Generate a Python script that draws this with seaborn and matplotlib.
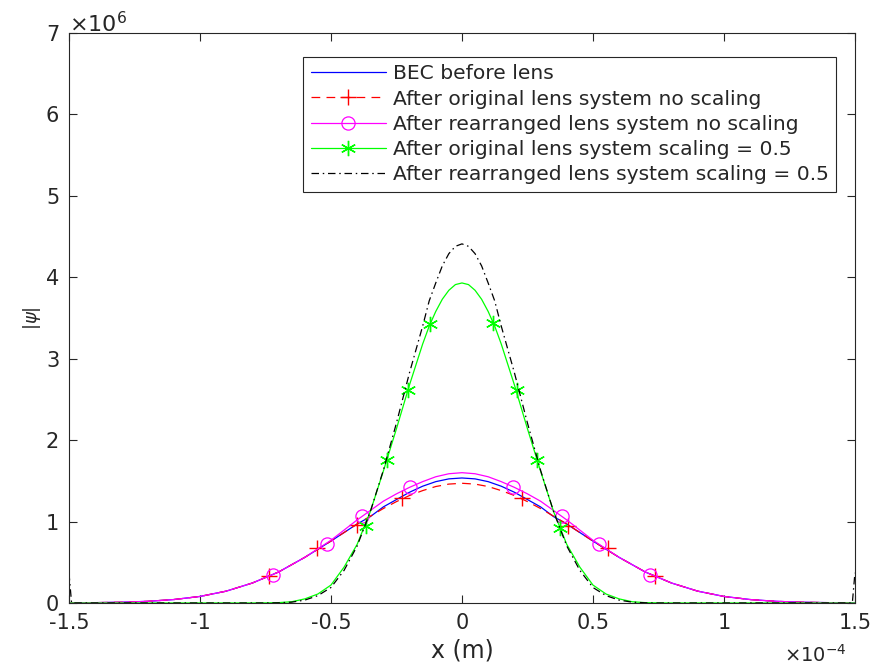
import numpy as np
import pandas as pd
import matplotlib
matplotlib.use("Agg")
import matplotlib.pyplot as plt
from matplotlib.lines import Line2D
import seaborn as sns

# ---------------- data (x in units of 1e-4 m, |psi| in units of 1e6) ----------------
x_wide = [-1.5, -1.4, -1.3, -1.2, -1.1, -1.0, -0.9, -0.8, -0.7, -0.6,
          -0.5, -0.45, -0.4, -0.35, -0.3, -0.25, -0.2, -0.15, -0.1, -0.05,
          0.0, 0.05, 0.1, 0.15, 0.2, 0.25, 0.3, 0.35, 0.4, 0.45, 0.5,
          0.6, 0.7, 0.8, 0.9, 1.0, 1.1, 1.2, 1.3, 1.4, 1.5]
bec_before = [0.002, 0.004, 0.009, 0.02, 0.042, 0.08, 0.145, 0.245, 0.38, 0.56,
              0.76, 0.865, 0.97, 1.06, 1.18, 1.27, 1.36, 1.434, 1.49, 1.524,
              1.535, 1.524, 1.49, 1.434, 1.36, 1.27, 1.18, 1.06, 0.97, 0.865, 0.76,
              0.56, 0.38, 0.245, 0.145, 0.08, 0.042, 0.02, 0.009, 0.004, 0.002]
orig_noscale = [0.002, 0.004, 0.009, 0.02, 0.042, 0.08, 0.145, 0.245, 0.38, 0.56,
                0.76, 0.865, 0.97, 1.065, 1.16, 1.245, 1.32, 1.38, 1.43, 1.46,
                1.47, 1.46, 1.43, 1.38, 1.32, 1.245, 1.16, 1.065, 0.97, 0.865, 0.76,
                0.56, 0.38, 0.245, 0.145, 0.08, 0.042, 0.02, 0.009, 0.004, 0.002]
rearr_noscale = [0.002, 0.004, 0.009, 0.02, 0.042, 0.08, 0.145, 0.245, 0.38, 0.56,
                 0.77, 0.895, 1.02, 1.135, 1.25, 1.34, 1.42, 1.49, 1.55, 1.587,
                 1.60, 1.587, 1.55, 1.49, 1.42, 1.34, 1.25, 1.135, 1.02, 0.895, 0.77,
                 0.56, 0.38, 0.245, 0.145, 0.08, 0.042, 0.02, 0.009, 0.004, 0.002]

x_narrow = [-1.5, -0.8, -0.75, -0.7, -0.65, -0.6, -0.55, -0.5, -0.45, -0.4, -0.35, -0.3, -0.25, -0.2,
            -0.15, -0.125, -0.1, -0.075, -0.05, -0.025,
            0.0, 0.025, 0.05, 0.075, 0.1, 0.125, 0.15,
            0.2, 0.25, 0.3, 0.35, 0.4, 0.45, 0.5, 0.55, 0.6, 0.65, 0.7, 0.75, 0.8, 1.5]
orig_scaled = [0.0, 0.0, 0.001, 0.004, 0.015, 0.05, 0.11, 0.22, 0.44, 0.72, 1.12, 1.62, 2.14, 2.68,
               3.18, 3.40, 3.58, 3.73, 3.84, 3.91,
               3.93, 3.91, 3.84, 3.73, 3.58, 3.40, 3.18,
               2.68, 2.14, 1.62, 1.12, 0.72, 0.44, 0.22, 0.11, 0.05, 0.015, 0.004, 0.001, 0.0, 0.0]

x_black = [-1.5, -1.49, -0.8, -0.75, -0.7, -0.65, -0.6, -0.55, -0.5, -0.45, -0.4, -0.35, -0.3, -0.25, -0.2,
           -0.15, -0.125, -0.1, -0.075, -0.05, -0.025,
           0.0, 0.025, 0.05, 0.075, 0.1, 0.125, 0.15,
           0.2, 0.25, 0.3, 0.35, 0.4, 0.45, 0.5, 0.55, 0.6, 0.65, 0.7, 0.75, 0.8, 1.49, 1.5]
rearr_scaled = [0.37, 0.0, 0.0, 0.0, 0.002, 0.01, 0.035, 0.09, 0.19, 0.40, 0.70, 1.12, 1.63, 2.21, 2.83,
                3.40, 3.71, 3.93, 4.14, 4.29, 4.38,
                4.41, 4.38, 4.29, 4.14, 3.93, 3.71, 3.40,
                2.83, 2.21, 1.63, 1.12, 0.70, 0.40, 0.19, 0.09, 0.035, 0.01, 0.002, 0.0, 0.0, 0.0, 0.37]

# marker positions as seen on the curves
red_mx = [-0.735, -0.553, -0.40, -0.229, 0.229, 0.405, 0.557, 0.737]
red_my = [0.33, 0.67, 0.96, 1.29, 1.29, 0.95, 0.67, 0.33]
mag_mx = [-0.72, -0.515, -0.38, -0.20, 0.195, 0.38, 0.523, 0.718]
mag_my = [0.34, 0.73, 1.07, 1.42, 1.42, 1.07, 0.72, 0.34]
grn_mx = [-0.366, -0.286, -0.206, -0.122, 0.118, 0.21, 0.286, 0.374]
grn_my = [0.95, 1.76, 2.62, 3.42, 3.44, 2.62, 1.76, 0.92]

labels = ["BEC before lens",
          "After original lens system no scaling",
          "After rearranged lens system no scaling",
          "After original lens system scaling = 0.5",
          "After rearranged lens system scaling = 0.5"]
x_ticks = [-1.5, -1, -0.5, 0, 0.5, 1, 1.5]
x_tick_labels = ["-1.5", "-1", "-0.5", "0", "0.5", "1", "1.5"]
y_ticks = [0, 1, 2, 3, 4, 5, 6, 7]

# ---------------- styling ----------------
sns.set_theme(style="white")
plt.rcParams["font.family"] = ["DejaVu Sans"]
plt.rcParams["axes.unicode_minus"] = False
plt.rcParams["mathtext.fontset"] = "dejavusans"

DARK = "#262626"
LW = 0.9
red_ls = (0, (7, 5))
blk_ls = (0, (6, 3, 1.2, 3))
star = (6, 2, 0)

fig = plt.figure(figsize=(8.74, 6.69), dpi=100)
ax = fig.add_axes([0.0789, 0.0987, 0.8993, 0.852])

sns.lineplot(x=x_wide, y=bec_before, ax=ax, color="#0000ff", lw=LW, sort=False, estimator=None)
sns.lineplot(x=x_wide, y=orig_noscale, ax=ax, color="#ff0000", lw=LW, linestyle=red_ls, sort=False, estimator=None)
sns.lineplot(x=red_mx, y=red_my, ax=ax, color="#ff0000", linestyle="", marker="+", markersize=11,
             markeredgecolor="#ff0000", markeredgewidth=1.0, sort=False, estimator=None)
sns.lineplot(x=x_wide, y=rearr_noscale, ax=ax, color="#ff00ff", lw=LW, sort=False, estimator=None)
sns.lineplot(x=mag_mx, y=mag_my, ax=ax, color="#ff00ff", linestyle="", marker="o", markersize=9.5,
             markerfacecolor="none", markeredgecolor="#ff00ff", markeredgewidth=0.9, sort=False, estimator=None)
sns.lineplot(x=x_narrow, y=orig_scaled, ax=ax, color="#00ff00", lw=LW, sort=False, estimator=None)
sns.lineplot(x=grn_mx, y=grn_my, ax=ax, color="#00ff00", linestyle="", marker=star, markersize=11,
             markeredgecolor="#00ff00", markeredgewidth=1.0, sort=False, estimator=None)
sns.lineplot(x=x_black, y=rearr_scaled, ax=ax, color="black", lw=LW, linestyle=blk_ls, sort=False, estimator=None)

ax.set_xlim(-1.5, 1.5)
ax.set_ylim(0, 7)
ax.set_xticks(x_ticks)
ax.set_xticklabels(x_tick_labels)
ax.set_yticks(y_ticks)
ax.set_yticklabels([str(v) for v in y_ticks])
ax.tick_params(direction="in", length=6, width=0.8, top=True, right=True, bottom=True, left=True,
               colors=DARK, labelsize=15, pad=7)
for s in ax.spines.values():
    s.set_visible(True)
    s.set_color(DARK)
    s.set_linewidth(0.8)

ax.set_xlabel("x (m)", fontsize=17, color=DARK, labelpad=4)
ax.set_ylabel(r"$|\psi|$", fontsize=13, color=DARK, labelpad=2)

ax.text(0.0, 0.994, r"$\times10^{6}$", transform=ax.transAxes, ha="left", va="bottom",
        fontsize=16, color=DARK)
ax.text(0.99, -0.072, r"$\times10^{-4}$", transform=ax.transAxes, ha="right", va="top",
        fontsize=14, color=DARK)

handles = [
    Line2D([], [], color="#0000ff", lw=LW),
    Line2D([], [], color="#ff0000", lw=LW, linestyle=red_ls, marker="+", markersize=11, markeredgewidth=1.0),
    Line2D([], [], color="#ff00ff", lw=LW, marker="o", markersize=9.5, markerfacecolor="none", markeredgewidth=0.9),
    Line2D([], [], color="#00ff00", lw=LW, marker=star, markersize=11, markeredgewidth=1.0),
    Line2D([], [], color="black", lw=LW, linestyle=blk_ls),
]
leg = ax.legend(handles, labels, loc="upper right", bbox_to_anchor=(0.976, 0.958), fontsize=14.6,
                frameon=True, fancybox=False, framealpha=1, edgecolor=DARK, handlelength=3.7,
                handletextpad=0.35, labelspacing=0.31, borderpad=0.36, borderaxespad=0.0)
leg.get_frame().set_linewidth(0.8)
for t in leg.get_texts():
    t.set_color(DARK)

fig.savefig("out.png", dpi=100)
